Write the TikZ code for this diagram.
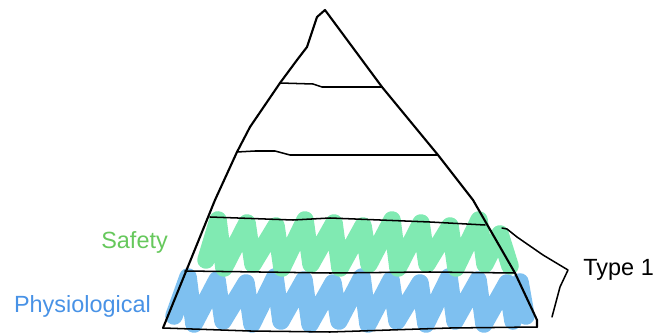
\documentclass[tikz,border=0pt]{standalone}
\usepackage{fontspec}
\setmainfont{Liberation Sans}
\usepackage{xcolor}
\usetikzlibrary{positioning}
\definecolor{scribblegreen}{RGB}{128, 234, 178}
\definecolor{scribbleblue}{RGB}{126, 192, 240}
\definecolor{labelgreen}{RGB}{102, 200, 92}
\definecolor{labelblue}{RGB}{72, 146, 230}

\begin{document}
\begin{tikzpicture}[x=0.03cm, y=-0.03cm, font=\fontsize{20}{24}\selectfont,
    outline/.style={line width=1.8pt, line join=round, line cap=round},
    level/.style={line width=1.3pt, line join=round, line cap=round},
    scribble/.style={line width=15pt, line join=round, line cap=round},
    label/.style={inner sep=0pt}]
    \useasboundingbox (0,0) rectangle (659,335);

    \draw[scribble, scribbleblue] (174,316) \foreach \i in {0,...,11} {
        -- ({188+29*\i},{277+3*mod(\i,3)}) -- ({194+29*\i},{324-3*mod(\i,2)}) } -- (520,282) -- (526,316);
    \draw[scribble, scribblegreen] (206,260) \foreach \i in {0,...,9} {
        -- ({218+29*\i},{220+3*mod(\i,3)}) -- ({224+29*\i},{268-4*mod(\i,2)}) } -- (500,234) -- (510,266);

    \draw[outline] (163,328) -- (215,200) -- (237,152) -- (250,127) -- (280,83) -- (297,60)
        -- (307,47) -- (312,32) -- (317,17) -- (325,10)
        -- (382,87) -- (438,155) -- (473,200) -- (515,273) -- (537,320) -- (537,327);
    \draw[level] (280,83) -- (313,84) -- (322,87) -- (382,87);
    \draw[level] (237,152) -- (255,151) -- (275,151) -- (290,155) -- (438,155);
    \draw[level] (210,217) -- (293,220) -- (330,218) -- (430,222) -- (485,225);
    \draw[level] (185,271) -- (260,272) -- (330,273) -- (430,272) -- (515,273);
    \draw[level] (163,328) -- (250,331) -- (330,332) -- (450,328) -- (537,327);

    \node[label, labelgreen, anchor=east] (safety) at (168,242) {Safety};
    \node[label, labelblue, anchor=east] (physio) at (151,306) {Physiological};

    \coordinate (bracestart) at (502,228);
    \coordinate (bracetip) at (568,270);
    \coordinate (braceend) at (552,317);
    \draw[level] (bracestart) -- (507,229) -- (517,237) -- (543,255) -- (bracetip) -- (560,287) -- (braceend);
    \node[label, right=13pt of bracetip] (type) {Type 1};
\end{tikzpicture}
\end{document}
